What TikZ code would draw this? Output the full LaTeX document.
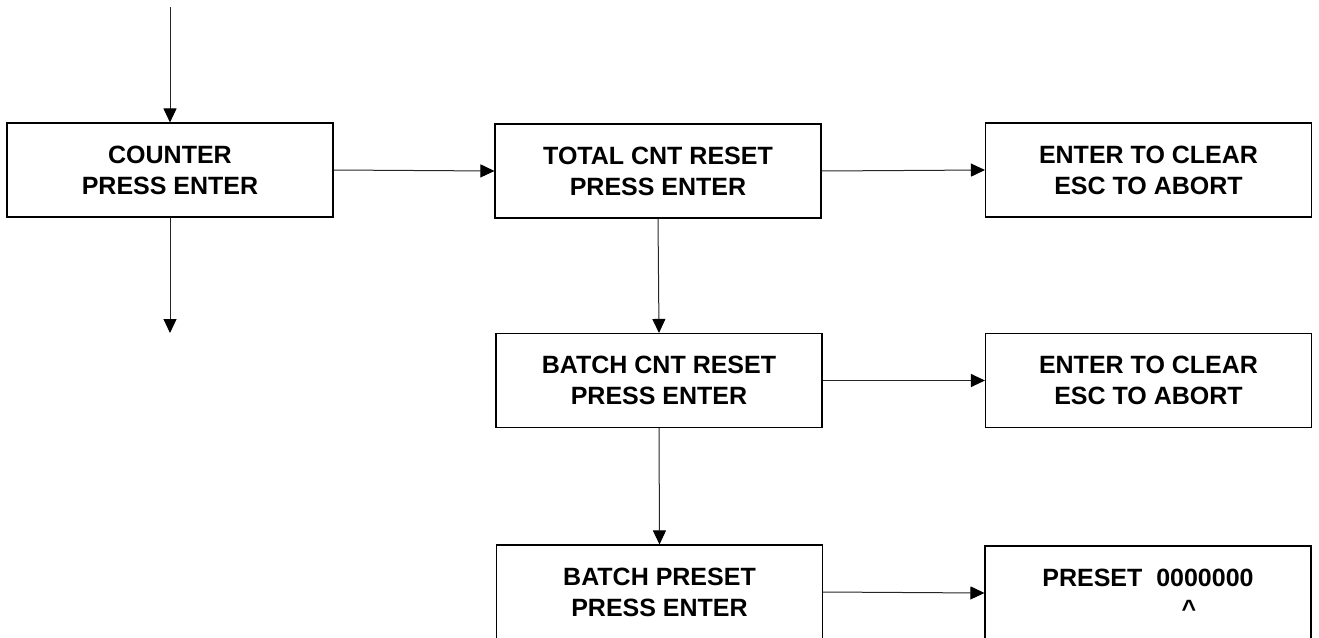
\documentclass[tikz,border=0pt]{standalone}
\usepackage{fontspec}
\setmainfont{Liberation Sans}
\usetikzlibrary{arrows.meta}
\begin{document}
\begin{tikzpicture}[x=1pt,y=-1pt,
  box/.style={draw=black,line width=1.1pt,minimum width=326pt,minimum height=94pt,inner sep=0pt,align=center,font=\bfseries\fontsize{25}{31}\selectfont},
  conn/.style={draw=black!85,line width=1pt,-{Triangle[length=14pt,width=13pt,color=black]}}]
\useasboundingbox (0,0) rectangle (1319,637);
\node[box] (counter) at (170,170) {COUNTER\\PRESS ENTER};
\node[box] (total) at (658,171) {TOTAL CNT RESET\\PRESS ENTER};
\node[box] (clear1) at (1148.5,170) {ENTER TO CLEAR\\ESC TO ABORT};
\node[box] (batch) at (659,380.5) {BATCH CNT RESET\\PRESS ENTER};
\node[box] (clear2) at (1148.5,380.5) {ENTER TO CLEAR\\ESC TO ABORT};
\node[box] (bpreset) at (659.5,592) {BATCH PRESET\\PRESS ENTER};
\node[box] (preset) at (1148,593) {PRESET~~0000000\\\hspace*{82pt}\textasciicircum};
\coordinate (top) at (170,7);
\coordinate (bot) at (170,333);
\draw[conn] (top) -- (counter.north);
\draw[conn] (counter.south) -- (bot);
\draw[conn] (counter.east) -- (total.west);
\draw[conn] (total.east) -- (clear1.west);
\draw[conn] (total.south) -- (batch.north);
\draw[conn] (batch.east) -- (clear2.west);
\draw[conn] (batch.south) -- (bpreset.north);
\draw[conn] (bpreset.east) -- (preset.west);
\end{tikzpicture}
\end{document}
